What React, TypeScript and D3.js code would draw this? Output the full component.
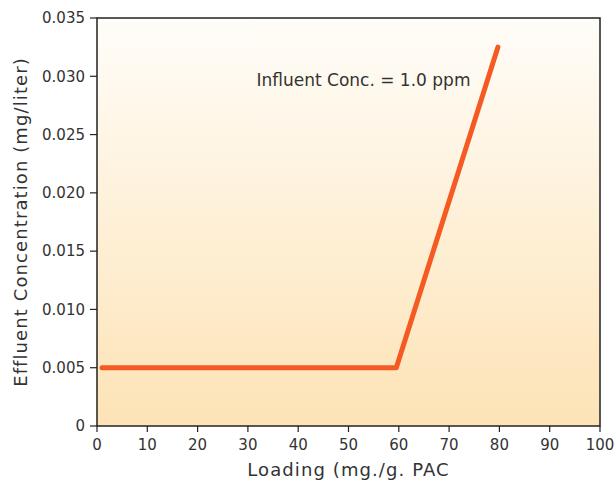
import React from "react";
import * as d3 from "d3";

// data
const loading: number[] = [1, 59.5, 79.7];
const effluent: number[] = [0.005, 0.005, 0.0325];
const xTicks: number[] = [0, 10, 20, 30, 40, 50, 60, 70, 80, 90, 100];
const yTicks: number[] = [0, 0.005, 0.01, 0.015, 0.02, 0.025, 0.03, 0.035];
const note = "Influent Conc. = 1.0 ppm";

const width = 615;
const height = 482;
const marginTop = 18;
const marginRight = 15;
const marginBottom = 56;
const marginLeft = 97;
const font = "'DejaVu Sans', sans-serif";
const textColor = "#333";

const App: React.FC = () => {
    const xScale = d3.scaleLinear().domain([0, 100]).range([marginLeft, width - marginRight]);
    const yScale = d3.scaleLinear().domain([0, 0.035]).range([height - marginBottom, marginTop]);

    const points: [number, number][] = loading.map((d, i) => [d, effluent[i]]);
    const line = d3.line<[number, number]>()
        .x(d => xScale(d[0]))
        .y(d => yScale(d[1]));

    const x0 = xScale(0);
    const x1 = xScale(100);
    const y0 = yScale(0);
    const y1 = yScale(0.035);

    return (
        <svg width={width} height={height} style={{ position: "absolute", left: 0, top: 0, background: "#fff" }}>
            <defs>
                <linearGradient id="bg" x1="0" y1="0" x2="0" y2="1">
                    <stop offset="0%" stopColor="#fffdf9" />
                    <stop offset="100%" stopColor="#fde3b6" />
                </linearGradient>
            </defs>
            {/* Plot area */}
            <rect x={x0} y={y1} width={x1 - x0} height={y0 - y1} fill="url(#bg)" stroke="#222" strokeWidth={1.5} />

            {/* Data line */}
            <path d={line(points)!} fill="none" stroke="#f55a22" strokeWidth={5} strokeLinecap="round" strokeLinejoin="round" />

            {/* Annotation */}
            <text x={xScale(31.7)} y={yScale(0.0292)} fontFamily={font} fontSize={17} fill={textColor}>{note}</text>

            {/* X axis */}
            <g>
                {xTicks.map(t => (
                    <g key={t} transform={`translate(${xScale(t)},${y0})`}>
                        <line y1={0} y2={6} stroke="#222" strokeWidth={1.2} />
                        <text y={24} textAnchor="middle" fontFamily={font} fontSize={15} fill={textColor}>{t}</text>
                    </g>
                ))}
                <text x={(x0 + x1) / 2} y={476} textAnchor="middle" fontFamily={font} fontSize={18} letterSpacing={1.1} fill={textColor}>
                    Loading (mg./g. PAC
                </text>
            </g>

            {/* Y axis */}
            <g>
                {yTicks.map(t => (
                    <g key={t} transform={`translate(${x0},${yScale(t)})`}>
                        <line x1={-7} x2={0} stroke="#222" strokeWidth={1.2} />
                        <text x={-12} dy="0.35em" textAnchor="end" fontFamily={font} fontSize={15} fill={textColor}>
                            {t === 0 ? "0" : d3.format(".3f")(t)}
                        </text>
                    </g>
                ))}
                <text
                    transform={`translate(27,${(y0 + y1) / 2}) rotate(-90)`}
                    textAnchor="middle"
                    fontFamily={font}
                    fontSize={18}
                    letterSpacing={1.1}
                    fill={textColor}
                >
                    Effluent Concentration (mg/liter)
                </text>
            </g>
        </svg>
    );
};

export default App;
